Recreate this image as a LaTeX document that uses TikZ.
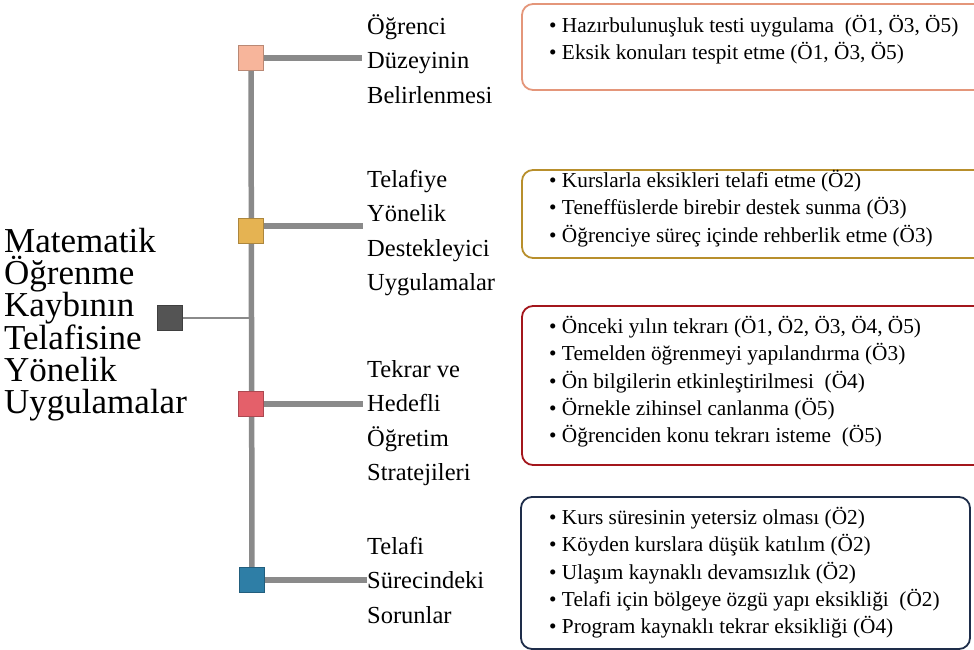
\documentclass[tikz,border=0pt]{standalone}
\usepackage{fontspec}
\setmainfont{Liberation Serif}
\usetikzlibrary{positioning, calc}

\definecolor{peach}{HTML}{F7B59B}
\definecolor{gold}{HTML}{E5B352}
\definecolor{rose}{HTML}{E4606A}
\definecolor{teal}{HTML}{2E7EA6}
\definecolor{slate}{HTML}{545454}
\definecolor{frameA}{HTML}{E4967A}
\definecolor{frameB}{HTML}{B88F2C}
\definecolor{frameC}{HTML}{A3161C}
\definecolor{frameD}{HTML}{1E2D4A}
\definecolor{stemgray}{HTML}{8A8A8A}

\begin{document}
\begin{tikzpicture}[x=1pt,y=-1pt,
    mark box/.style={draw=#1!75!black, fill=#1, minimum size=25pt, inner sep=0pt, line width=0.8pt},
    catlabel/.style={anchor=west, align=left, inner sep=0pt, font=\fontsize{24.5}{34.5}\selectfont},
    itemlist/.style={anchor=north west, align=left, inner sep=0pt, font=\fontsize{21.3}{27.3}\selectfont},
    frame/.style={draw=#1, line width=1.8pt, rounded corners=11pt},
    stem/.style={draw=stemgray, line width=5.5pt},
    twig/.style={draw=stemgray, line width=1.5pt}]
  \useasboundingbox (0,0) rectangle (974,650);

  % main title
  \node[anchor=west, align=left, inner sep=0pt, font=\fontsize{35}{32}\selectfont] (title) at (4,325)
    {Matematik\\Öğrenme\\Kaybının\\Telafisine\\Yönelik\\Uygulamalar};

  % category labels
  \node[catlabel] (c1) at (367,59) {Öğrenci\\Düzeyinin\\Belirlenmesi};
  \node[catlabel] (c2) at (367,233) {Telafiye\\Yönelik\\Destekleyici\\Uygulamalar};
  \node[catlabel] (c3) at (367,423) {Tekrar ve\\Hedefli\\Öğretim\\Stratejileri};
  \node[catlabel] (c4) at (367,580) {Telafi\\Sürecindeki\\Sorunlar};

  \coordinate (p1) at (251,58);
  \coordinate (p2) at (251,226);
  \coordinate (p3) at (251,404);
  \coordinate (p4) at (252,580);
  \coordinate (p0) at (170,318);

  % tree lines
  \draw[stem] (p1) -- (p4);
  \draw[stem] (p1) -- ($(p1 -| c1.west)+(-5,0)$);
  \draw[stem] (p2) -- ($(p2 -| c2.west)+(-4,0)$);
  \draw[stem] (p3) -- ($(p3 -| c3.west)+(-4,0)$);
  \draw[stem] (p4) -- (p4 -| c4.west);
  \draw[twig] (p0) -- (p0 -| p1);

  \node[mark box=peach] (s1) at (p1) {};
  \node[mark box=gold] (s2) at ($(p2)+(0,5)$) {};
  \node[mark box=rose] (s3) at (p3) {};
  \node[mark box=teal] (s4) at (p4) {};
  \node[mark box=slate] (s0) at (p0) {};

  % item boxes
  \draw[frame=frameA] (522,4) rectangle (1000,90);
  \draw[frame=frameB] (522,170) rectangle (1000,258);
  \draw[frame=frameC] (522,306) rectangle (1000,465);
  \draw[frame=frameD] (521,497) rectangle (970,649);

  \node[itemlist] (l1) at (549,15)
    {\textbullet\ Hazırbulunuşluk testi uygulama \ (Ö1, Ö3, Ö5)\\
     \textbullet\ Eksik konuları tespit etme (Ö1, Ö3, Ö5)};
  \node[itemlist] (l2) at (549,170)
    {\textbullet\ Kurslarla eksikleri telafi etme (Ö2)\\
     \textbullet\ Teneffüslerde birebir destek sunma (Ö3)\\
     \textbullet\ Öğrenciye süreç içinde rehberlik etme (Ö3)};
  \node[itemlist] (l3) at (549,316)
    {\textbullet\ Önceki yılın tekrarı (Ö1, Ö2, Ö3, Ö4, Ö5)\\
     \textbullet\ Temelden öğrenmeyi yapılandırma (Ö3)\\
     \textbullet\ Ön bilgilerin etkinleştirilmesi \ (Ö4)\\
     \textbullet\ Örnekle zihinsel canlanma (Ö5)\\
     \textbullet\ Öğrenciden konu tekrarı isteme \ (Ö5)};
  \node[itemlist] (l4) at (549,507)
    {\textbullet\ Kurs süresinin yetersiz olması (Ö2)\\
     \textbullet\ Köyden kurslara düşük katılım (Ö2)\\
     \textbullet\ Ulaşım kaynaklı devamsızlık (Ö2)\\
     \textbullet\ Telafi için bölgeye özgü yapı eksikliği \ (Ö2)\\
     \textbullet\ Program kaynaklı tekrar eksikliği (Ö4)};
\end{tikzpicture}
\end{document}
